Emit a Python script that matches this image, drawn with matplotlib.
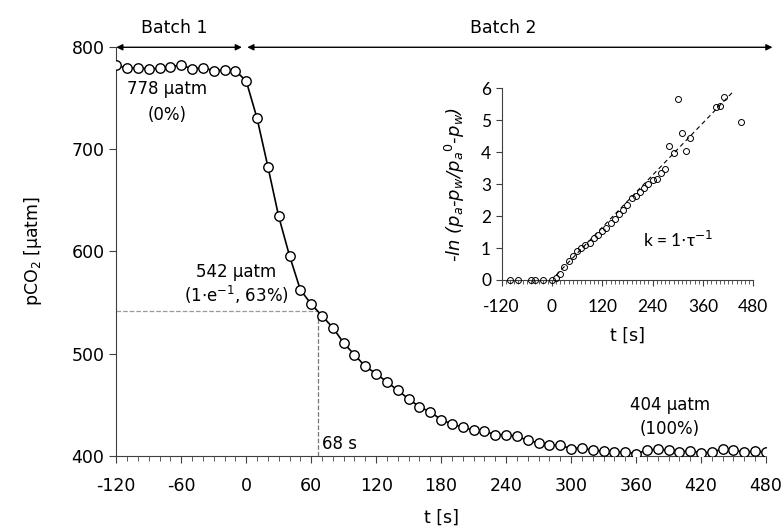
import matplotlib.pyplot as plt
import numpy as np
from matplotlib.ticker import MultipleLocator

# main series: pCO2 every 10 s
t_main = np.arange(-120, 481, 10)
pco2 = [782.7, 779.4, 780.0, 778.8, 779.4, 781.0, 782.7, 778.8, 780.0, 777.1,
        777.8, 777.1, 767.0, 730.5, 683.2, 634.3, 595.8, 562.5, 548.5, 537.0,
        525.4, 510.4, 498.8, 487.5, 480.3, 472.2, 464.0, 455.6, 447.8, 442.9,
        435.3, 431.0, 427.8, 424.9, 423.9, 420.6, 420.6, 419.0, 415.0, 412.5,
        410.2, 410.2, 407.0, 407.7, 405.3, 404.3, 403.7, 403.7, 402.0, 405.3,
        406.6, 405.3, 403.4, 405.0, 402.7, 403.4, 406.6, 405.3, 403.7, 404.3,
        403.7]

# inset: -ln((pa-pw)/(pa0-pw))
t_ins = [-100, -80, -50, -40, -20, 0, 10, 20, 30, 40, 50, 60, 70, 80, 90, 100,
         110, 120, 130, 140, 150, 160, 170, 180, 190, 200, 210, 220, 230, 240,
         250, 260, 270, 280, 290, 300, 310, 320, 330, 390, 400, 410, 450]
lnv = [0.0, 0.0, 0.01, 0.0, 0.01, 0.0, 0.05, 0.2, 0.4, 0.58, 0.75, 0.92, 0.99,
       1.08, 1.17, 1.31, 1.41, 1.52, 1.62, 1.78, 1.9, 2.07, 2.19, 2.35, 2.56,
       2.63, 2.74, 2.88, 3.01, 3.13, 3.16, 3.34, 3.47, 4.2, 3.97, 5.66, 4.6,
       4.05, 4.44, 5.41, 5.46, 5.72, 4.96]
trend_t = [10, 430]
trend_y = [0.15, 5.87]

half_t = 66
half_p = 542

plt.rcParams['font.family'] = ['DejaVu Sans']
plt.rcParams['axes.unicode_minus'] = False
fig = plt.figure(figsize=(7.84, 5.30), dpi=100)
ax = fig.add_axes([0.1483, 0.1402, 0.8287, 0.7706])

ax.plot(t_main, pco2, '-o', color='black', lw=1.2, ms=6.8, mfc='white',
        mec='black', mew=1.0, zorder=3)
ax.plot([-120, half_t], [half_p, half_p], '--', color='#999999', lw=0.9)
ax.plot([half_t, half_t], [400, half_p], '--', color='#777777', lw=0.9)

ax.set_xlim(-120, 480)
ax.set_ylim(400, 800)
ax.xaxis.set_major_locator(MultipleLocator(60))
ax.xaxis.set_minor_locator(MultipleLocator(10))
ax.yaxis.set_major_locator(MultipleLocator(100))
for s in ['top', 'right']:
    ax.spines[s].set_visible(False)
for s in ['left', 'bottom']:
    ax.spines[s].set_color('#404040')
ax.tick_params(axis='both', which='major', labelsize=12.5, length=5,
               color='#404040', direction='out')
ax.tick_params(axis='x', which='major', pad=10)
ax.tick_params(axis='x', which='minor', length=3.5, color='#404040')
ax.set_xlabel('t [s]', fontsize=12.5, labelpad=10)
ax.set_ylabel('pCO$_2$ [µatm]', fontsize=12.5, labelpad=20)

# batch arrows
arr = dict(arrowstyle='<|-|>', color='black', lw=1.0, mutation_scale=9,
           shrinkA=0, shrinkB=0)
ax.annotate('', xy=(-120, 800), xytext=(-4, 800), arrowprops=arr,
            annotation_clip=False)
ax.annotate('', xy=(1, 800), xytext=(486, 800), arrowprops=arr,
            annotation_clip=False)
ax.text(-66, 819, 'Batch 1', ha='center', va='center', fontsize=12.5)
ax.text(237, 819, 'Batch 2', ha='center', va='center', fontsize=12.5)

ax.text(-73, 759, '778 µatm', ha='center', va='center', fontsize=12)
ax.text(-73, 734, '(0%)', ha='center', va='center', fontsize=12)
ax.text(-9, 580, '542 µatm', ha='center', va='center', fontsize=12)
ax.text(-9, 557, '(1$\\cdot$e$^{-1}$, 63%)', ha='center', va='center',
        fontsize=12)
ax.text(70, 411, '68 s', ha='left', va='center', fontsize=12)
ax.text(391, 450, '404 µatm', ha='center', va='center', fontsize=12)
ax.text(391, 426, '(100%)', ha='center', va='center', fontsize=12)

# inset
ins = fig.add_axes([0.6397, 0.4717, 0.3212, 0.3617])
ins.plot(t_ins, lnv, 'o', ms=4.3, mfc='none', mec='black', mew=0.7,
         clip_on=False, zorder=3)
ins.plot(trend_t, trend_y, '--', color='black', lw=0.8, dashes=(4, 3))
ins.set_xlim(-120, 480)
ins.set_ylim(0, 6)
ins.xaxis.set_major_locator(MultipleLocator(120))
ins.xaxis.set_minor_locator(MultipleLocator(10))
ins.yaxis.set_major_locator(MultipleLocator(1))
for s in ['top', 'right']:
    ins.spines[s].set_visible(False)
for s in ['left', 'bottom']:
    ins.spines[s].set_color('#404040')
    ins.spines[s].set_linewidth(0.8)
ins.tick_params(axis='both', which='major', labelsize=12.5, length=4,
                color='#404040', width=0.8)
ins.tick_params(axis='x', which='major', pad=10)
ins.tick_params(axis='x', which='minor', length=3, color='#404040', width=0.6)
for lab in ins.get_xticklabels() + ins.get_yticklabels():
    lab.set_family(['Lato', 'DejaVu Sans'])
ins.set_xlabel('t [s]', fontsize=12.5, labelpad=8)
ins.set_ylabel('-ln (p$_a$-p$_w$/p$_a$$^0$-p$_w$)', fontsize=13,
               fontstyle='italic', labelpad=10)
ins.text(300, 1.25, 'k = 1$\\cdot$τ$^{-1}$', ha='center', va='center',
         fontsize=12.5, family=['Lato', 'DejaVu Sans'])

fig.savefig('out.png', dpi=100)
